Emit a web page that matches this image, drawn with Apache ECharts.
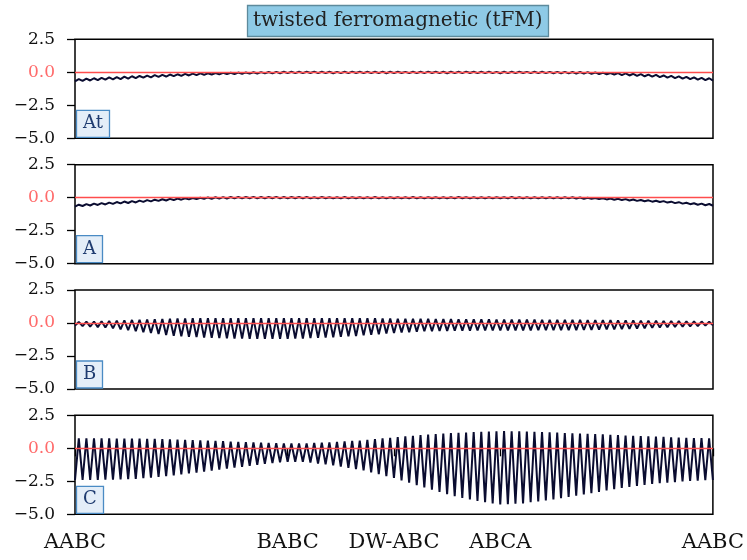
<!DOCTYPE html>
<html>
<head>
<meta charset="utf-8">
<script src="https://cdn.jsdelivr.net/npm/echarts/dist/echarts.min.js"></script>
<style>
html,body{margin:0;padding:0;background:#fff;}
#chart{width:747px;height:560px;}
</style>
</head>
<body>
<div id="chart"></div>
<script>
// x-axis tick positions (point index) and labels
var tickIdx = [0, 56, 84, 112, 168];
var tickLabels = ['AABC', 'BABC', 'DW-ABC', 'ABCA', 'AABC'];
var yTicks = [-5, -2.5, 0, 2.5];
var panelNames = ['At', 'A', 'B', 'C'];

// values at even point indices (lows) and odd point indices (highs)
var At_low = [-0.68,-0.65,-0.62,-0.59,-0.56,-0.53,-0.51,-0.48,-0.44,-0.41,
-0.38,-0.35,-0.32,-0.29,-0.27,-0.24,-0.21,-0.19,-0.17,-0.16,
-0.14,-0.13,-0.12,-0.10,-0.09,-0.08,-0.08,-0.07,-0.06,-0.06,
-0.06,-0.05,-0.06,-0.06,-0.07,-0.06,-0.06,-0.05,-0.06,-0.06,
-0.06,-0.07,-0.06,-0.05,-0.06,-0.06,-0.06,-0.05,-0.06,-0.07,
-0.06,-0.06,-0.05,-0.06,-0.06,-0.06,-0.07,-0.06,-0.06,-0.05,
-0.06,-0.06,-0.06,-0.07,-0.07,-0.08,-0.09,-0.10,-0.11,-0.13,
-0.15,-0.17,-0.21,-0.24,-0.27,-0.30,-0.33,-0.37,-0.40,-0.44,
-0.48,-0.52,-0.56,-0.59,-0.63];
var At_high = [-0.51,-0.48,-0.45,-0.42,-0.39,-0.36,-0.33,-0.30,-0.28,-0.25,
-0.22,-0.20,-0.17,-0.15,-0.12,-0.10,-0.08,-0.07,-0.05,-0.04,
-0.03,-0.02,-0.01,0.00,0.01,0.02,0.03,0.04,0.04,0.04,
0.04,0.05,0.04,0.04,0.03,0.04,0.05,0.04,0.04,0.04,
0.05,0.04,0.04,0.03,0.04,0.04,0.05,0.04,0.04,0.04,
0.04,0.05,0.04,0.04,0.04,0.03,0.04,0.04,0.04,0.03,
0.04,0.04,0.03,0.03,0.03,0.02,0.02,0.01,-0.01,-0.03,
-0.05,-0.06,-0.08,-0.11,-0.14,-0.17,-0.20,-0.24,-0.27,-0.31,
-0.34,-0.38,-0.42,-0.45];

var A_low = [-0.67,-0.63,-0.59,-0.55,-0.51,-0.47,-0.43,-0.40,-0.36,-0.32,
-0.28,-0.24,-0.21,-0.18,-0.15,-0.13,-0.11,-0.09,-0.08,-0.07,
-0.06,-0.05,-0.05,-0.04,-0.05,-0.05,-0.04,-0.05,-0.05,-0.04,
-0.05,-0.05,-0.05,-0.04,-0.05,-0.05,-0.05,-0.04,-0.05,-0.05,
-0.05,-0.05,-0.04,-0.05,-0.05,-0.05,-0.05,-0.04,-0.05,-0.05,
-0.05,-0.04,-0.05,-0.05,-0.05,-0.05,-0.04,-0.05,-0.05,-0.05,
-0.05,-0.05,-0.05,-0.05,-0.05,-0.05,-0.06,-0.08,-0.09,-0.11,
-0.13,-0.15,-0.18,-0.21,-0.24,-0.27,-0.30,-0.33,-0.37,-0.41,
-0.45,-0.49,-0.53,-0.57,-0.61];
var A_high = [-0.53,-0.49,-0.45,-0.41,-0.37,-0.33,-0.29,-0.26,-0.22,-0.18,
-0.15,-0.12,-0.09,-0.06,-0.04,-0.02,0.00,0.02,0.03,0.04,
0.05,0.05,0.05,0.06,0.05,0.05,0.06,0.05,0.05,0.05,
0.05,0.04,0.05,0.04,0.04,0.05,0.04,0.04,0.04,0.05,
0.04,0.04,0.04,0.04,0.05,0.04,0.04,0.04,0.04,0.04,
0.05,0.04,0.04,0.04,0.04,0.04,0.04,0.05,0.04,0.04,
0.04,0.04,0.04,0.04,0.04,0.03,0.02,0.00,-0.02,-0.04,
-0.06,-0.08,-0.11,-0.14,-0.17,-0.20,-0.23,-0.26,-0.30,-0.34,
-0.38,-0.42,-0.45,-0.48];

var B_low = [-0.20,-0.24,-0.27,-0.31,-0.34,-0.41,-0.48,-0.55,-0.62,-0.69,
-0.76,-0.84,-0.91,-0.97,-1.00,-1.04,-1.07,-1.10,-1.12,-1.14,
-1.16,-1.18,-1.18,-1.19,-1.19,-1.20,-1.20,-1.19,-1.19,-1.18,
-1.17,-1.15,-1.13,-1.11,-1.08,-1.05,-1.01,-0.98,-0.94,-0.89,
-0.85,-0.80,-0.75,-0.72,-0.69,-0.66,-0.63,-0.62,-0.61,-0.60,
-0.58,-0.58,-0.58,-0.57,-0.57,-0.57,-0.57,-0.56,-0.56,-0.56,
-0.56,-0.55,-0.55,-0.55,-0.54,-0.54,-0.54,-0.53,-0.52,-0.50,
-0.49,-0.48,-0.46,-0.44,-0.42,-0.40,-0.37,-0.35,-0.33,-0.30,
-0.28,-0.25,-0.23,-0.20,-0.18];
var B_high = [0.08,0.10,0.11,0.13,0.16,0.18,0.20,0.23,0.25,0.27,
0.29,0.31,0.33,0.34,0.35,0.36,0.37,0.37,0.37,0.37,
0.37,0.37,0.37,0.37,0.37,0.37,0.37,0.37,0.37,0.37,
0.37,0.37,0.37,0.37,0.37,0.37,0.37,0.37,0.37,0.36,
0.35,0.34,0.33,0.32,0.32,0.31,0.31,0.30,0.29,0.29,
0.28,0.28,0.27,0.27,0.27,0.26,0.26,0.26,0.25,0.25,
0.25,0.24,0.24,0.24,0.23,0.23,0.23,0.22,0.22,0.21,
0.21,0.20,0.19,0.19,0.18,0.17,0.17,0.16,0.15,0.14,
0.13,0.12,0.11,0.10];

var C_low = [-2.40,-2.40,-2.39,-2.39,-2.38,-2.37,-2.35,-2.33,-2.31,-2.27,
-2.22,-2.17,-2.11,-2.05,-1.98,-1.91,-1.84,-1.77,-1.69,-1.62,
-1.54,-1.47,-1.40,-1.33,-1.26,-1.18,-1.12,-1.07,-1.02,-1.02,
-1.03,-1.08,-1.15,-1.21,-1.29,-1.38,-1.48,-1.57,-1.68,-1.82,
-1.96,-2.11,-2.25,-2.43,-2.61,-2.79,-2.96,-3.13,-3.30,-3.47,
-3.63,-3.77,-3.87,-3.98,-4.09,-4.18,-4.25,-4.23,-4.20,-4.17,
-4.09,-4.02,-3.95,-3.88,-3.78,-3.69,-3.59,-3.50,-3.40,-3.30,
-3.19,-3.09,-3.00,-2.92,-2.85,-2.77,-2.70,-2.65,-2.61,-2.56,
-2.51,-2.48,-2.45,-2.42,-2.40];
var C_high = [0.75,0.75,0.75,0.75,0.75,0.74,0.74,0.74,0.74,0.72,
0.71,0.70,0.68,0.66,0.64,0.62,0.61,0.58,0.56,0.54,
0.51,0.49,0.47,0.45,0.43,0.40,0.38,0.37,0.36,0.36,
0.37,0.40,0.42,0.45,0.48,0.52,0.56,0.59,0.64,0.69,
0.75,0.80,0.85,0.90,0.95,1.00,1.04,1.08,1.11,1.15,
1.18,1.20,1.23,1.25,1.27,1.29,1.30,1.29,1.28,1.27,
1.25,1.23,1.21,1.19,1.16,1.14,1.12,1.09,1.07,1.05,
1.02,1.00,0.97,0.95,0.93,0.90,0.88,0.86,0.84,0.82,
0.80,0.78,0.77,0.75];

var lowsList = [At_low, A_low, B_low, C_low];
var highsList = [At_high, A_high, B_high, C_high];

function interleave(lows, highs) {
  var out = [];
  for (var k = 0; k < lows.length; k++) {
    out.push(lows[k]);
    if (k < highs.length) out.push(highs[k]);
  }
  return out;
}

var N = At_low.length + At_high.length;
var cats = [];
for (var i = 0; i < N; i++) cats.push(String(i));

var gridTops = [39.3, 164.7, 290, 415.3];
var serif = 'DejaVu Serif';

var grids = [], xAxes = [], yAxes = [], series = [], titles = [];

titles.push({
  text: 'twisted ferromagnetic (tFM)',
  left: 247, top: 5,
  backgroundColor: '#8ecae6',
  borderColor: '#5d8a9c',
  borderWidth: 1.3,
  padding: [4, 6],
  textStyle: {fontFamily: serif, fontSize: 20, fontWeight: 'normal', color: '#222', lineHeight: 24}
});

for (var p = 0; p < 4; p++) {
  var isBottom = (p === 3);
  grids.push({left: 75, width: 638, top: gridTops[p], height: 99,
    show: true, borderColor: '#000', borderWidth: 1.5, backgroundColor: 'transparent'});
  xAxes.push({
    type: 'category', gridIndex: p, data: cats, boundaryGap: false,
    axisLine: {show: false},
    axisTick: {show: isBottom, length: 8, lineStyle: {color: '#000', width: 1.3},
      interval: function (idx) { return tickIdx.indexOf(idx) >= 0; }},
    axisLabel: {show: isBottom, margin: 18, fontFamily: serif, fontSize: 21, color: '#111',
      interval: function (idx) { return tickIdx.indexOf(idx) >= 0; },
      formatter: function (v, idx) { var j = tickIdx.indexOf(Number(v)); return j >= 0 ? tickLabels[j] : ''; },
      showMinLabel: true, showMaxLabel: true, hideOverlap: false},
    splitLine: {show: false}
  });
  yAxes.push({
    type: 'value', gridIndex: p, min: yTicks[0], max: yTicks[yTicks.length - 1], interval: 2.5,
    axisLine: {show: false},
    axisTick: {show: true, length: 8, lineStyle: {color: '#000', width: 1.3}},
    axisLabel: {margin: 20, fontFamily: serif, fontSize: 17,
      color: function (v) { return Number(v) === 0 ? '#ff6b6b' : '#111'; },
      formatter: function (v) { return (v < 0 ? '\u2212' : '') + Math.abs(v).toFixed(1); }},
    splitLine: {show: false}
  });
  series.push({
    type: 'line', xAxisIndex: p, yAxisIndex: p,
    data: interleave(lowsList[p], highsList[p]),
    showSymbol: false, symbol: 'none',
    lineStyle: {color: '#0a0c30', width: 2},
    animation: false,
    markLine: {silent: true, symbol: 'none', label: {show: false}, animation: false,
      lineStyle: {color: '#ff4d4d', width: 1.3, type: 'solid'},
      data: [{yAxis: 0}]}
  });
  titles.push({
    text: panelNames[p], left: 76, top: gridTops[p] + 70.5,
    backgroundColor: '#e4eef8', borderColor: '#4a8bc4', borderWidth: 1.3,
    padding: [3, 7],
    textStyle: {fontFamily: serif, fontSize: 18, fontWeight: 'normal', color: '#1f3c70', lineHeight: 22}
  });
}

var chart = echarts.init(document.getElementById('chart'), null, {renderer: 'canvas'});
chart.setOption({
  animation: false,
  backgroundColor: '#fff',
  title: titles,
  grid: grids,
  xAxis: xAxes,
  yAxis: yAxes,
  series: series
});
</script>
</body>
</html>
